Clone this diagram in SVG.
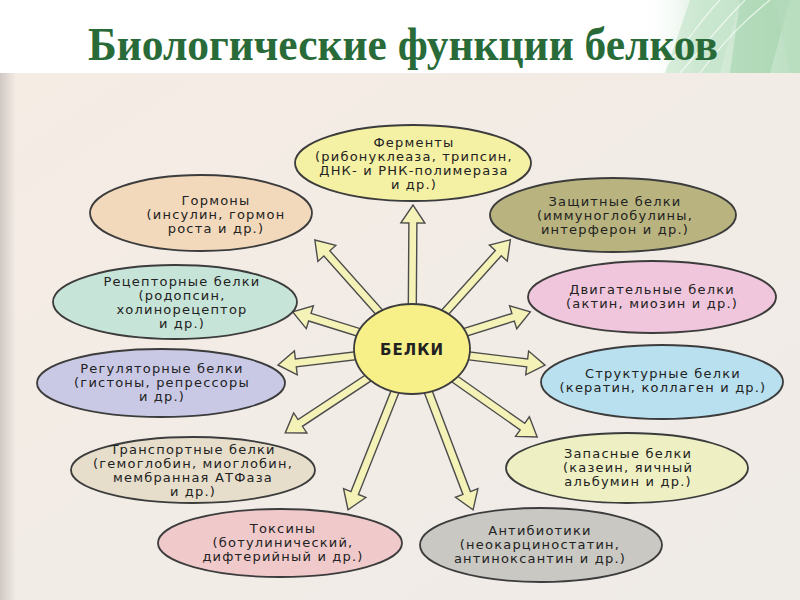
<svg xmlns="http://www.w3.org/2000/svg" width="800" height="600" viewBox="0 0 800 600">
<defs>
<linearGradient id="page" x1="0" y1="0" x2="1" y2="1">
<stop offset="0" stop-color="#f5ece4"/>
<stop offset="0.5" stop-color="#f2ece6"/>
<stop offset="1" stop-color="#efebe7"/>
</linearGradient>
<linearGradient id="leftEdge" x1="0" y1="0" x2="1" y2="0">
<stop offset="0" stop-color="#cfc8c4"/>
<stop offset="1" stop-color="#cfc8c4" stop-opacity="0"/>
</linearGradient>
<linearGradient id="deco" x1="0" y1="0" x2="1" y2="0">
<stop offset="0" stop-color="#ffffff" stop-opacity="0"/>
<stop offset="0.4" stop-color="#cfe8d3"/>
<stop offset="1" stop-color="#a9d6b2"/>
</linearGradient>
<style>
.el{stroke:#3c3c3c;stroke-width:1.8}
.lbl{font-family:"DejaVu Sans","Liberation Sans",sans-serif;font-size:13px;letter-spacing:1.2px;fill:#222222;text-anchor:middle}
#connectors path{fill:#f4f2b6;stroke:#4c4c4c;stroke-width:1.4;stroke-linejoin:miter}
</style>
</defs>
<rect x="0" y="0" width="800" height="600" fill="#ffffff"/>
<rect x="0" y="73" width="800" height="527" fill="url(#page)"/>
<rect x="0" y="73" width="16" height="527" fill="url(#leftEdge)"/>
<g id="decoration">
<rect x="640" y="0" width="160" height="73" fill="url(#deco)" opacity="0.8"/>
<polygon points="690,0 740,0 720,73 665,73" fill="#bfe2c6" opacity="0.6"/>
<polygon points="740,0 790,0 770,73 730,73" fill="#9ccfa6" opacity="0.5"/>
<polygon points="775,0 800,0 800,73 790,73" fill="#b6dcbd" opacity="0.6"/>
<path d="M660,73 C690,40 700,20 720,0 M680,73 C705,45 720,25 745,0 M700,73 C725,40 745,20 770,0" stroke="#ffffff" stroke-width="1.2" fill="none" opacity="0.7"/>
</g>
<text x="88" y="60" textLength="630" lengthAdjust="spacingAndGlyphs" font-family="'Liberation Serif','DejaVu Serif',serif" font-weight="bold" font-size="46" fill="#286b38">Биологические функции белков</text>

<g id="connectors">
<g transform="translate(412,349) rotate(-89.6)"><path d="M0,-4 H126 V-12 L144,0 L126,12 V4 H0 Z"/></g>
<g transform="translate(412,349) rotate(-131.7)"><path d="M0,-4 H128 V-12 L146,0 L128,12 V4 H0 Z"/></g>
<g transform="translate(412,349) rotate(-162.7)"><path d="M0,-4 H107 V-12 L125,0 L107,12 V4 H0 Z"/></g>
<g transform="translate(412,349) rotate(173.2)"><path d="M0,-4 H117 V-12 L135,0 L117,12 V4 H0 Z"/></g>
<g transform="translate(412,349) rotate(146.5)"><path d="M0,-4 H134 V-12 L152,0 L134,12 V4 H0 Z"/></g>
<g transform="translate(412,349) rotate(111.7)"><path d="M0,-4 H155 V-12 L173,0 L155,12 V4 H0 Z"/></g>
<g transform="translate(412,349) rotate(69.2)"><path d="M0,-4 H154 V-12 L172,0 L154,12 V4 H0 Z"/></g>
<g transform="translate(412,349) rotate(35.1)"><path d="M0,-4 H135 V-12 L153,0 L135,12 V4 H0 Z"/></g>
<g transform="translate(412,349) rotate(6.9)"><path d="M0,-4 H116 V-12 L134,0 L116,12 V4 H0 Z"/></g>
<g transform="translate(412,349) rotate(-17.4)"><path d="M0,-4 H106 V-12 L124,0 L106,12 V4 H0 Z"/></g>
<g transform="translate(412,349) rotate(-48)"><path d="M0,-4 H129 V-12 L147,0 L129,12 V4 H0 Z"/></g>
</g>

<g id="center">
<ellipse class="el" cx="412" cy="349" rx="58" ry="45" fill="#f7ef88"/>
<text x="412" y="355" font-family="'DejaVu Sans','Liberation Sans',sans-serif" font-weight="bold" font-size="15" letter-spacing="1" fill="#222222" text-anchor="middle">БЕЛКИ</text>
</g>

<g id="fermenty">
<ellipse class="el" cx="413" cy="163" rx="118" ry="38" fill="#f4f0a4"/>
<text class="lbl"><tspan x="414" y="147">Ферменты</tspan><tspan x="414" y="161">(рибонуклеаза, трипсин,</tspan><tspan x="414" y="175">ДНК- и РНК-полимераза</tspan><tspan x="414" y="189">и др.)</tspan></text>
</g>

<g id="gormony">
<ellipse class="el" cx="201" cy="213" rx="111" ry="38" fill="#f2d9bc"/>
<text class="lbl"><tspan x="216" y="205">Гормоны</tspan><tspan x="216" y="219">(инсулин, гормон</tspan><tspan x="216" y="233">роста и др.)</tspan></text>
</g>

<g id="zashchitnye">
<ellipse class="el" cx="613" cy="215" rx="123" ry="37" fill="#b9b47f"/>
<text class="lbl"><tspan x="615" y="206">Защитные белки</tspan><tspan x="615" y="220">(иммуноглобулины,</tspan><tspan x="615" y="234">интерферон и др.)</tspan></text>
</g>

<g id="retseptornye">
<ellipse class="el" cx="175" cy="302" rx="122" ry="37" fill="#c7e4d8"/>
<text class="lbl"><tspan x="182" y="286">Рецепторные белки</tspan><tspan x="182" y="300">(родопсин,</tspan><tspan x="182" y="314">холинорецептор</tspan><tspan x="182" y="328">и др.)</tspan></text>
</g>

<g id="dvigatelnye">
<ellipse class="el" cx="652" cy="297" rx="124" ry="36" fill="#f0c6dc"/>
<text class="lbl"><tspan x="652" y="294">Двигательные белки</tspan><tspan x="652" y="308">(актин, миозин и др.)</tspan></text>
</g>

<g id="regulyatornye">
<ellipse class="el" cx="161" cy="383" rx="124" ry="34" fill="#c9c9e6"/>
<text class="lbl"><tspan x="162" y="373">Регуляторные белки</tspan><tspan x="162" y="387">(гистоны, репрессоры</tspan><tspan x="162" y="401">и др.)</tspan></text>
</g>

<g id="strukturnye">
<ellipse class="el" cx="662" cy="382" rx="121" ry="37" fill="#b9e0ef"/>
<text class="lbl"><tspan x="663" y="378">Структурные белки</tspan><tspan x="663" y="392">(кератин, коллаген и др.)</tspan></text>
</g>

<g id="transportnye">
<ellipse class="el" cx="193" cy="470" rx="122" ry="33" fill="#e6decb"/>
<text class="lbl"><tspan x="193" y="454">Транспортные белки</tspan><tspan x="193" y="468">(гемоглобин, миоглобин,</tspan><tspan x="193" y="482">мембранная АТФаза</tspan><tspan x="193" y="496">и др.)</tspan></text>
</g>

<g id="zapasnye">
<ellipse class="el" cx="627" cy="468" rx="121" ry="35" fill="#eef0c4"/>
<text class="lbl"><tspan x="628" y="458">Запасные белки</tspan><tspan x="628" y="472">(казеин, яичный</tspan><tspan x="628" y="486">альбумин и др.)</tspan></text>
</g>

<g id="toksiny">
<ellipse class="el" cx="280" cy="543" rx="122" ry="34" fill="#f0c9ca"/>
<text class="lbl"><tspan x="283" y="533">Токсины</tspan><tspan x="283" y="547">(ботулинический,</tspan><tspan x="283" y="561">дифтерийный и др.)</tspan></text>
</g>

<g id="antibiotiki">
<ellipse class="el" cx="541" cy="545" rx="121" ry="37" fill="#c9c8c2"/>
<text class="lbl"><tspan x="540" y="535">Антибиотики</tspan><tspan x="540" y="549">(неокарциностатин,</tspan><tspan x="540" y="563">антиноксантин и др.)</tspan></text>
</g>
</svg>
